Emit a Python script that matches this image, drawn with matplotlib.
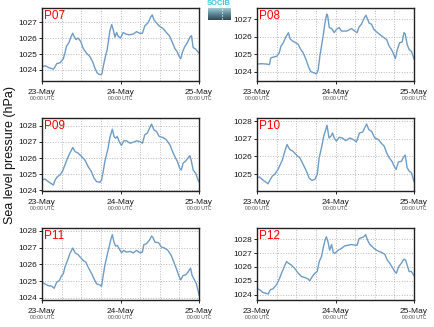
import numpy as np
import matplotlib
matplotlib.use('Agg')
import matplotlib.pyplot as plt
from matplotlib.ticker import MultipleLocator
from matplotlib.colors import LinearSegmentedColormap

plt.rcParams['font.family'] = ['Liberation Sans', 'DejaVu Sans']

# hours since 23-May 00:00 UTC and sea level pressure (hPa) for each station
h07 = [0, 1, 2, 3.5, 4, 4.5, 5.5, 6.5, 7, 7.5, 8.2, 8.9, 9.4, 9.8, 10.4, 11, 11.8, 12.6, 13.6, 14.6,
       15.5, 16.2, 16.9, 17.7, 18.3, 18.9, 19.5, 19.9, 20.3, 20.7, 21.3, 21.8, 22.3, 22.8, 23.3, 24,
       24.8, 25.6, 26.6, 27.9, 28.9, 29.9, 30.7, 31.4, 32.4, 33.2, 33.7, 34.2, 35, 35.8, 37, 37.8,
       38.9, 39.9, 40.6, 41.3, 41.9, 42.4, 42.9, 43.6, 44.4, 45.2, 45.7, 46.2, 47, 48]
p07 = [1024.2, 1024.27, 1024.15, 1024.05, 1024.2, 1024.4, 1024.45, 1024.7, 1025.05, 1025.5, 1025.7,
       1026.1, 1026.3, 1026.1, 1025.9, 1026.0, 1025.8, 1025.35, 1025.05, 1024.85, 1024.5, 1024.1,
       1023.8, 1023.7, 1023.75, 1024.4, 1024.95, 1025.25, 1025.8, 1026.4, 1026.85, 1026.5, 1026.05,
       1026.35, 1026.1, 1026.0, 1026.35, 1026.25, 1026.2, 1026.25, 1026.4, 1026.3, 1026.3, 1026.75,
       1026.95, 1027.3, 1027.45, 1027.15, 1026.95, 1026.75, 1026.6, 1026.4, 1026.15, 1025.7, 1025.35,
       1025.15, 1024.85, 1024.7, 1025.1, 1025.45, 1025.7, 1026.05, 1026.15, 1025.4, 1025.3, 1025.05]

h08 = [0, 1.4, 2.9, 3.8, 4.2, 5, 6, 6.8, 7.3, 8, 8.7, 9.6, 10.1, 10.9, 11.6, 12.6, 13.4, 14.1, 15,
       15.7, 16.4, 17.2, 18.2, 18.7, 19.2, 19.7, 20.2, 20.8, 21.3, 21.6, 22.1, 22.8, 23.6, 24.3, 25.1,
       25.8, 27.4, 28.9, 29.9, 30.6, 31.2, 31.9, 32.6, 33.3, 33.8, 34.3, 35, 35.7, 36.5, 37.5, 38.6,
       39.6, 40.4, 41.1, 41.6, 42.3, 42.9, 43.6, 44.4, 44.9, 45.3, 45.9, 46.5, 47.2, 48]
p08 = [1024.43, 1024.45, 1024.43, 1024.4, 1024.78, 1024.83, 1024.87, 1025.07, 1025.45, 1025.65,
       1025.94, 1026.23, 1025.88, 1025.74, 1025.68, 1025.55, 1025.26, 1025.07, 1024.68, 1024.29,
       1024.0, 1023.94, 1023.87, 1024.1, 1024.87, 1025.45, 1026.03, 1026.8, 1027.29, 1027.19,
       1026.52, 1026.46, 1026.23, 1026.42, 1026.52, 1026.32, 1026.32, 1026.46, 1026.32, 1026.23,
       1026.55, 1026.71, 1027.0, 1027.23, 1027.0, 1026.77, 1026.71, 1026.42, 1026.28, 1026.13,
       1025.97, 1025.84, 1025.45, 1025.26, 1025.07, 1024.74, 1025.26, 1025.65, 1025.7, 1026.23,
       1026.17, 1025.55, 1025.26, 1025.16, 1024.72]

h09 = [0, 0.9, 1.9, 3.5, 4, 4.7, 5.5, 6.3, 7, 7.8, 8.5, 9.4, 10.1, 11.1, 12.1, 13.1, 14.1, 15.1,
       15.9, 16.7, 17.7, 18.2, 18.7, 19.2, 19.7, 20.2, 20.7, 21.5, 22, 22.5, 23, 23.6, 24.3, 25, 25.8,
       26.9, 27.9, 28.9, 29.9, 30.7, 31.4, 32.2, 33, 33.5, 34.2, 35, 35.8, 37, 38, 39.1, 39.9, 40.6,
       41.4, 42.1, 42.6, 43.1, 43.9, 44.6, 45.2, 45.7, 46.2, 47, 47.7, 48]
p09 = [1024.64, 1024.7, 1024.54, 1024.33, 1024.64, 1024.85, 1024.95, 1025.2, 1025.57, 1025.99,
       1026.3, 1026.65, 1026.4, 1026.3, 1026.09, 1025.88, 1025.47, 1025.16, 1024.75, 1024.54, 1024.5,
       1024.64, 1025.16, 1025.78, 1026.2, 1026.61, 1027.23, 1027.79, 1027.34, 1027.23, 1027.34,
       1027.02, 1026.78, 1027.07, 1027.07, 1026.92, 1026.98, 1027.07, 1027.02, 1026.92, 1027.44,
       1027.54, 1027.9, 1028.1, 1027.75, 1027.65, 1027.34, 1027.27, 1027.13, 1026.82, 1026.4,
       1026.09, 1025.78, 1025.37, 1025.26, 1025.68, 1025.82, 1025.99, 1026.15, 1025.78, 1025.26,
       1025.05, 1024.64, 1024.54]

h10 = [0, 0.8, 1.8, 3.4, 3.9, 4.7, 5.4, 6.4, 6.9, 7.8, 8.5, 9.2, 10, 11, 12.1, 13.1, 14.1, 15.1,
       15.9, 16.7, 17.7, 18.4, 19, 19.7, 20.4, 21, 21.4, 22, 22.6, 23.1, 23.6, 24.3, 25.1, 26.1, 27.1,
       28.4, 29.4, 30.4, 31.3, 32.3, 33, 33.5, 34.2, 35, 36, 37.1, 37.9, 38.9, 39.6, 40.4, 41.2,
       41.9, 42.5, 43.2, 44.2, 44.7, 45.3, 45.9, 46.5, 47.2, 48]
p10 = [1024.79, 1024.83, 1024.66, 1024.45, 1024.64, 1024.89, 1024.98, 1025.26, 1025.45, 1025.82,
       1026.29, 1026.67, 1026.39, 1026.29, 1026.07, 1025.92, 1025.54, 1025.17, 1024.79, 1024.64,
       1024.7, 1024.98, 1025.92, 1026.48, 1027.14, 1027.51, 1027.76, 1027.04, 1027.14, 1027.32,
       1027.04, 1026.86, 1027.08, 1027.04, 1026.89, 1027.04, 1026.95, 1026.82, 1027.32, 1027.38,
       1027.64, 1027.83, 1027.51, 1027.42, 1027.04, 1026.95, 1026.76, 1026.57, 1026.2, 1025.92,
       1025.73, 1025.45, 1025.26, 1025.67, 1025.73, 1025.92, 1026.07, 1025.35, 1025.17, 1025.07,
       1024.57]

h11 = [0, 0.9, 1.9, 3, 3.7, 4.5, 5.3, 6, 6.5, 7, 7.8, 8.5, 9.4, 10.1, 11.1, 11.9, 12.6, 13.4, 14.1,
       15.2, 15.9, 16.7, 17.7, 18.2, 18.7, 19.2, 19.9, 20.5, 21.1, 21.5, 22, 22.5, 23, 23.6, 24.3, 25,
       25.8, 26.9, 27.9, 28.9, 29.9, 30.7, 31.1, 31.9, 32.8, 33.5, 34, 34.5, 35.6, 36.5, 37.5, 38.5,
       39.5, 40.3, 41.1, 41.8, 42.4, 43.1, 43.9, 44.6, 45.4, 45.9, 46.7, 47.2, 48]
p11 = [1024.94, 1024.84, 1024.74, 1024.7, 1024.58, 1024.94, 1025.04, 1025.34, 1025.44, 1025.84,
       1026.24, 1026.64, 1026.98, 1026.7, 1026.58, 1026.38, 1026.24, 1026.14, 1025.84, 1025.44,
       1025.14, 1024.84, 1024.78, 1024.7, 1025.34, 1025.94, 1026.54, 1027.04, 1027.54, 1027.78,
       1027.34, 1027.1, 1027.14, 1026.94, 1026.7, 1026.84, 1026.74, 1026.78, 1026.7, 1026.84,
       1026.7, 1026.74, 1027.18, 1027.24, 1027.44, 1027.7, 1027.58, 1027.34, 1027.3, 1027.04,
       1026.98, 1026.84, 1026.54, 1026.14, 1025.74, 1025.34, 1025.08, 1025.34, 1025.38, 1025.54,
       1025.78, 1025.34, 1025.04, 1024.84, 1024.18]

h12 = [0, 0.8, 1.8, 3.4, 4.1, 4.9, 5.9, 6.7, 7.5, 8.2, 9, 9.7, 10.5, 11.5, 12.6, 13.6, 14.6, 15.6,
       16.1, 16.9, 17.7, 18.4, 19, 19.7, 20.2, 20.8, 21.2, 21.7, 22.2, 22.8, 23.3, 23.8, 24.8, 25.8,
       26.8, 27.9, 28.9, 29.9, 30.6, 31.2, 31.9, 32.6, 33.2, 33.8, 34.5, 35.3, 36, 37.1, 38.1, 39.1,
       39.8, 40.6, 41.4, 42.1, 42.6, 43.3, 44.1, 44.9, 45.4, 45.9, 46.5, 47.2, 48]
p12 = [1024.43, 1024.36, 1024.17, 1024.05, 1024.36, 1024.43, 1024.71, 1025.07, 1025.55, 1025.95,
       1026.38, 1026.26, 1026.14, 1025.9, 1025.55, 1025.31, 1025.24, 1025.14, 1025.0, 1025.31,
       1025.55, 1025.67, 1026.38, 1026.74, 1027.33, 1027.93, 1028.17, 1027.81, 1027.21, 1027.62,
       1027.05, 1026.98, 1027.21, 1027.33, 1027.52, 1027.57, 1027.62, 1027.57, 1027.57, 1028.05,
       1028.1, 1028.17, 1028.33, 1027.93, 1027.62, 1027.45, 1027.29, 1027.14, 1027.05, 1026.9,
       1026.5, 1026.26, 1025.95, 1025.67, 1025.55, 1026.02, 1026.26, 1026.57, 1026.5, 1026.14,
       1025.67, 1025.67, 1025.38]

stations = ['P07', 'P08', 'P09', 'P10', 'P11', 'P12']
hours = [h07, h08, h09, h10, h11, h12]
pressures = [p07, p08, p09, p10, p11, p12]
ylims = [(1023.31, 1027.88), (1023.46, 1027.64), (1023.96, 1028.48),
         (1024.04, 1028.17), (1023.88, 1028.18), (1023.62, 1028.81)]
day_ticks = [0, 24, 48]
day_labels = ['23-May', '24-May', '25-May']

# axes boxes in figure fraction
lefts = [0.0968, 0.5922]
rows = [(0.7523, 0.2232), (0.4159, 0.2232), (0.0826, 0.2202)]

fig = plt.figure(figsize=(4.34, 3.27), dpi=100)

for i, name in enumerate(stations):
    bottom, height = rows[i // 2]
    ax = fig.add_axes([lefts[i % 2], bottom, 0.3618, height])
    ax.plot(hours[i], pressures[i], color='#6f9cc6', lw=1.0)
    ax.set_xlim(0, 48)
    ax.set_ylim(*ylims[i])
    ax.yaxis.set_major_locator(MultipleLocator(1))
    ax.set_xticks(day_ticks)
    ax.set_xticklabels(day_labels)
    ax.set_xticks(np.arange(6, 48, 6), minor=True)
    ax.grid(True, which='both', ls=':', lw=0.7, color='#b8b8b8')
    ax.tick_params(axis='both', which='major', length=2, width=0.6, labelsize=6,
                   labelcolor='#1a1a1a', pad=1.5)
    ax.tick_params(axis='x', which='major', pad=4)
    ax.tick_params(axis='x', which='minor', length=0)
    for sp in ax.spines.values():
        sp.set_color('#222222')
        sp.set_linewidth(1.0)
    for t in day_ticks:
        ax.annotate('00:00 UTC', xy=(t, 0), xycoords=('data', 'axes fraction'),
                    xytext=(0, -12.3), textcoords='offset points',
                    ha='center', va='center', fontsize=3.6, color='#444444')
    ax.annotate(name, xy=(0, 1), xycoords='axes fraction', xytext=(1.7, -1.2),
                textcoords='offset points', ha='left', va='top', fontsize=8.5, color='red')

fig.text(0.022, 0.526, 'Sea level pressure (hPa)', rotation=90, ha='center', va='center',
         fontsize=9, color='#111111')

# small logo at the top
logo = fig.add_axes([0.479, 0.939, 0.053, 0.037])
logo_cmap = LinearSegmentedColormap.from_list('logo', ['#34495a', '#5a8796', '#9cc4cc'])
gx = np.linspace(0, 1, 2)
gy = np.linspace(0, 1, 13)
logo.pcolormesh(gx, gy, gy[:-1].reshape(-1, 1), cmap=logo_cmap, shading='flat')
logo.plot([0.62, 0.62], [0.1, 0.95], ls=':', color='white', lw=0.8)
logo.set_xlim(0, 1)
logo.set_ylim(0, 1)
logo.axis('off')
fig.text(0.505, 0.988, 'SOCIB', ha='center', va='center', fontsize=5.5, color='#3cc6da',
         fontweight='bold')

fig.savefig('out.png', dpi=100)
